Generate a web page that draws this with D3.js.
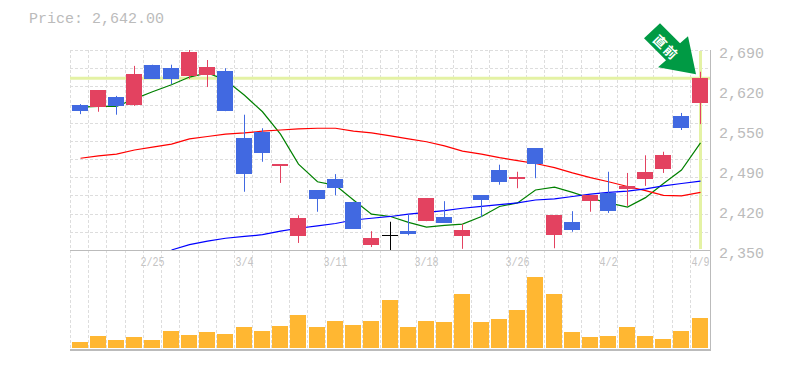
<!DOCTYPE html>
<html>
<head>
<meta charset="utf-8">
<script src="https://cdn.jsdelivr.net/npm/d3@7"></script>
<style>
    html, body { margin: 0; padding: 0; background: #fff; }
    svg { display: block; }
</style>
</head>
<body>
<svg width="785" height="370"></svg>
<script>
const lastPrice = 2642;
const dateLabels = [[4, '2/25'], [9, '3/4'], [14, '3/11'], [19, '3/18'], [24, '3/26'], [29, '4/2'], [34, '4/9']];
const priceTicks = [2690, 2622, 2554, 2486, 2418, 2350];

const opens  = [2597,2593,2610,2597,2665,2659,2646,2648,2654,2540,2551,2493,2374,2452,2471,2432,2358,2375,2382,2399,2406,2374,2443,2486,2471,2523,2375,2398,2433,2447,2454,2471,2488,2578,2600];
const closes = [2586,2622,2595,2649,2642,2641,2687,2661,2586,2479,2515,2496,2404,2437,2455,2386,2370,2375,2377,2438,2396,2384,2435,2466,2474,2496,2409,2384,2443,2416,2459,2483,2511,2557,2642];
const highs  = [2598,2622,2612,2663,2665,2665,2690,2673,2659,2580,2557,2496,2409,2452,2479,2432,2382,2398,2411,2438,2433,2394,2443,2495,2483,2523,2409,2416,2443,2483,2481,2511,2517,2583,2653];
const lows   = [2581,2585,2580,2595,2642,2632,2641,2627,2586,2449,2500,2464,2362,2415,2443,2386,2355,2350,2375,2399,2396,2352,2406,2461,2455,2472,2353,2381,2415,2413,2425,2459,2481,2554,2564];
const volumes = [60,120,80,110,80,170,130,160,140,210,170,220,330,210,270,230,270,480,210,270,260,540,260,290,380,710,540,160,110,120,210,120,90,170,300];

const maShort = [2593,2594,2594,2607,2619,2631,2644,2651,2639,2613,2585,2547,2496,2466,2460,2435,2411,2407,2397,2389,2392,2394,2407,2424,2430,2452,2457,2448,2438,2430,2423,2439,2463,2486,2532];
const maMid   = [2506,2510,2513,2520,2525,2530,2539,2543,2547,2549,2552,2554,2556,2557,2557,2552,2549,2544,2539,2534,2527,2518,2513,2507,2502,2497,2490,2481,2473,2466,2458,2451,2443,2442,2448];
const maLong  = [null,null,null,null,null,2350,2359,2365,2370,2373,2376,2382,2387,2391,2395,2401,2404,2407,2411,2414,2417,2421,2424,2427,2430,2435,2437,2441,2445,2448,2450,2454,2459,2463,2467];

const attr_area = { left: 70.9, right: 709.2, top: 50, priceBottom: 250, volTop: 250, volBottom: 348, bottom: 350 };
const gridColor = '#ddd', axisColor = '#bbb', textColor = '#bbb', mono = '"Liberation Mono", monospace';

const svg = d3.select('svg');

const scX = d3.scaleBand().domain(d3.range(opens.length)).range([attr_area.left, attr_area.right]);
const scY = d3.scaleLinear().domain([2350, 2690]).range([attr_area.priceBottom, attr_area.top]);
const scV = d3.scaleLinear().domain([0, 980]).range([attr_area.volBottom, attr_area.volTop]);
const mid = i => Math.floor(scX(i) + scX.bandwidth() / 2) + 0.5;

// grid
const gridY = d3.scaleLinear().domain([0, 11]).range([attr_area.priceBottom, attr_area.top]);
svg.append('g').selectAll('line')
    .data(d3.range(1, 12))
    .join('line')
    .attr('x1', 70).attr('x2', 710)
    .attr('y1', d => Math.round(gridY(d)) + 0.5)
    .attr('y2', d => Math.round(gridY(d)) + 0.5)
    .attr('stroke', gridColor)
    .attr('stroke-dasharray', '3,2');

svg.append('g').selectAll('line')
    .data(d3.range(opens.length))
    .join('line')
    .attr('x1', d => Math.round(scX(d)) - 0.5)
    .attr('x2', d => Math.round(scX(d)) - 0.5)
    .attr('y1', attr_area.top).attr('y2', attr_area.bottom)
    .attr('stroke', gridColor)
    .attr('stroke-dasharray', '3,2');

// last price highlight
svg.append('line')
    .attr('x1', 70).attr('x2', 710)
    .attr('y1', scY(lastPrice)).attr('y2', scY(lastPrice))
    .attr('stroke', '#e4f2a4').attr('stroke-width', 3);
svg.append('line')
    .attr('x1', mid(34)).attr('x2', mid(34))
    .attr('y1', attr_area.top + 1).attr('y2', attr_area.priceBottom - 1)
    .attr('stroke', '#e4f2a4').attr('stroke-width', 3);

// moving averages
const line = d3.line()
    .defined(d => d !== null)
    .x((d, i) => mid(i))
    .y(d => scY(d));
[[maShort, '#008000'], [maMid, '#ff0000'], [maLong, '#0000ff']].forEach(([values, color]) => {
    svg.append('path')
        .attr('d', line(values))
        .attr('fill', 'none')
        .attr('stroke', color)
        .attr('stroke-width', 1.2);
});

// candles
const candleColor = i => {
    if (opens[i] === closes[i]) return '#000';
    return closes[i] > opens[i] ? '#e34260' : '#4169e1';
};
const idx = d3.range(opens.length);
svg.append('g').selectAll('line')
    .data(idx)
    .join('line')
    .attr('x1', mid).attr('x2', mid)
    .attr('y1', i => scY(highs[i]))
    .attr('y2', i => scY(lows[i]))
    .attr('stroke', candleColor);
svg.append('g').selectAll('rect')
    .data(idx)
    .join('rect')
    .attr('x', i => mid(i) - 8.5)
    .attr('width', 16)
    .attr('y', i => Math.round(scY(Math.max(opens[i], closes[i]))))
    .attr('height', i => Math.max(1, Math.round(Math.abs(scY(opens[i]) - scY(closes[i])))))
    .attr('fill', candleColor);

// volume
svg.append('g').selectAll('rect')
    .data(volumes)
    .join('rect')
    .attr('x', (d, i) => mid(i) - 8.5)
    .attr('width', 16)
    .attr('y', d => scV(d))
    .attr('height', d => attr_area.volBottom - scV(d))
    .attr('fill', '#ffb732');

// frame
const frame = svg.append('g').attr('stroke', axisColor);
frame.append('line').attr('x1', 70).attr('x2', 711).attr('y1', 250.5).attr('y2', 250.5);
frame.append('line').attr('x1', 70).attr('x2', 711).attr('y1', 350).attr('y2', 350).attr('stroke-width', 2);
frame.append('line').attr('x1', 710.5).attr('x2', 710.5).attr('y1', attr_area.top).attr('y2', 351);

// labels
svg.append('text')
    .attr('x', 29).attr('y', 23)
    .attr('font-family', mono).attr('font-size', 15)
    .attr('fill', textColor)
    .text('Price: ' + d3.format(',.2f')(lastPrice));

svg.append('g').selectAll('text')
    .data(priceTicks)
    .join('text')
    .attr('x', 719)
    .attr('y', d => scY(d) + 8)
    .attr('font-family', mono).attr('font-size', 15)
    .attr('fill', textColor)
    .text(d => d3.format(',')(Math.round(d / 10) * 10));

svg.append('g').selectAll('text')
    .data(dateLabels)
    .join('text')
    .attr('x', d => mid(d[0]))
    .attr('y', 266)
    .attr('text-anchor', 'middle')
    .attr('font-family', mono).attr('font-size', 12.5)
    .attr('textLength', d => d[1].length * 6)
    .attr('lengthAdjust', 'spacingAndGlyphs')
    .attr('fill', '#c4c4c4')
    .text(d => d[1]);

// arrow on the last candle
const tipX = mid(34) - 4.5, tipY = scY(lastPrice) - 4;
const arrow = svg.append('g').attr('transform', `translate(${tipX}, ${tipY})`);
arrow.append('path')
    .attr('d', 'M0,0L-38,-7L-30,-14L-52,-36L-36,-51L-16,-31L-8,-38Z')
    .attr('fill', '#009a44');
arrow.append('text')
    .attr('transform', 'translate(-29.5,-27) rotate(45)')
    .attr('text-anchor', 'middle')
    .attr('dominant-baseline', 'central')
    .attr('font-family', '"Noto Sans CJK JP"')
    .attr('font-weight', 'bold')
    .attr('font-size', 13)
    .attr('letter-spacing', 2)
    .attr('fill', '#fff')
    .text('直前');
</script>
</body>
</html>
